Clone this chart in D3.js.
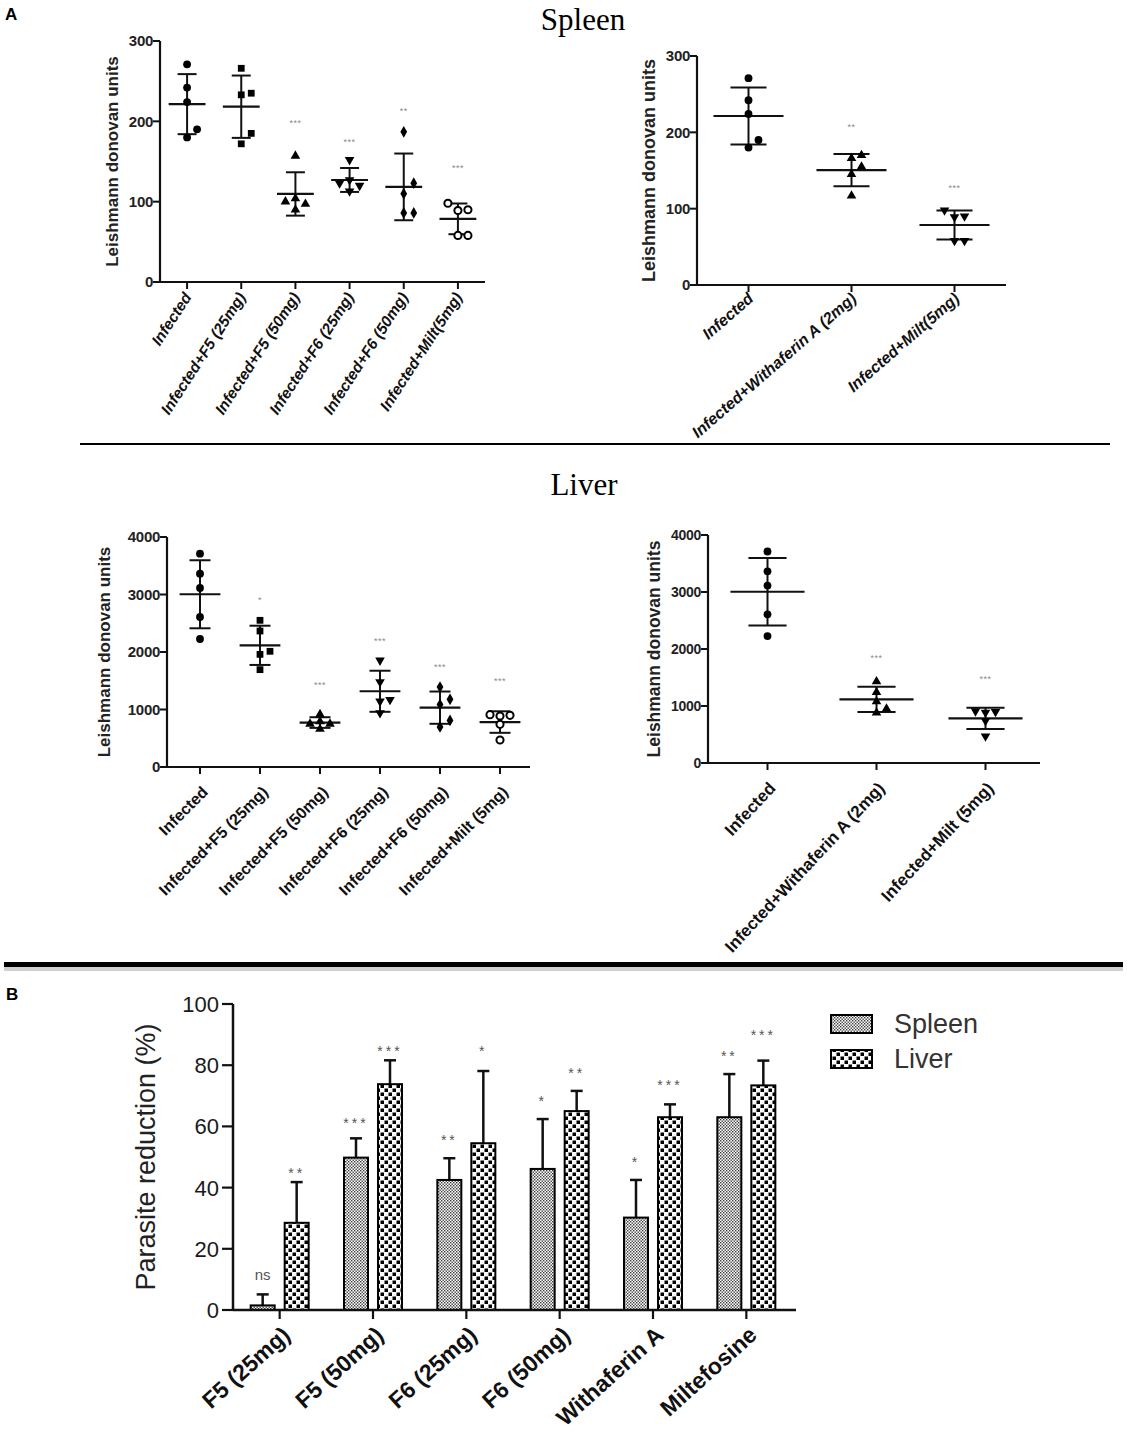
<!DOCTYPE html>
<html>
<head>
<meta charset="utf-8">
<script src="https://cdn.jsdelivr.net/npm/d3@7"></script>
<style>
  body { margin: 0; background: #fff; }
  svg { display: block; font-family: "Liberation Sans", Arial, sans-serif; }
</style>
</head>
<body>
<svg id="fig" width="1127" height="1440"></svg>
<script>
// ---- data: panel A, spleen (Leishmann donovan units, 5 animals per group)
const spleenCats = ["Infected", "Infected+F5 (25mg)", "Infected+F5 (50mg)", "Infected+F6 (25mg)", "Infected+F6 (50mg)", "Infected+Milt(5mg)"];
const spleenInfected = [271, 242, 224, 190, 180];
const spleenF5_25 = [266, 235, 233, 185, 172];
const spleenF5_50 = [157, 104, 100, 97, 90];
const spleenF6_25 = [152, 127, 123, 120, 113];
const spleenF6_50 = [187, 123, 110, 86, 86];
const spleenMilt = [98, 90, 89, 58, 58];
const spleenWitha = [170, 166, 155, 145, 117];
const spleenStars = ["", "", "***", "***", "**", "***"];
const spleenStarY = [null, null, 199, 175, 214, 143];
const spleenCats2 = ["Infected", "Infected+Withaferin A (2mg)", "Infected+Milt(5mg)"];
const spleenStars2 = ["", "**", "***"];
const spleenStarY2 = [null, 208, 129];
const spleenTicks = [0, 100, 200, 300];

// ---- data: panel A, liver
const liverCats = ["Infected", "Infected+F5 (25mg)", "Infected+F5 (50mg)", "Infected+F6 (25mg)", "Infected+F6 (50mg)", "Infected+Milt (5mg)"];
const liverInfected = [3710, 3362, 3113, 2609, 2226];
const liverF5_25 = [2551, 2365, 2012, 1959, 1693];
const liverF5_50 = [915, 790, 750, 750, 660];
const liverF6_25 = [1855, 1478, 1171, 1142, 939];
const liverF6_50 = [1391, 1177, 1085, 810, 696];
const liverMilt = [910, 899, 887, 742, 470];
const liverWitha = [1430, 1240, 1080, 950, 880];
const liverStars = ["", "*", "***", "***", "***", "***"];
const liverStarY = [null, 2922, 1438, 2216, 1751, 1507];
const liverCats2 = ["Infected", "Infected+Withaferin A (2mg)", "Infected+Milt (5mg)"];
const liverStars2 = ["", "***", "***"];
const liverStarY2 = [null, 1868, 1500];
const liverTicks = [0, 1000, 2000, 3000, 4000];

// ---- data: panel B, parasite reduction (%)
const drugs = ["F5 (25mg)", "F5 (50mg)", "F6 (25mg)", "F6 (50mg)", "Withaferin A", "Miltefosine"];
const organs = ["Spleen", "Liver"];
const spleenReduction = [1.5, 49.8, 42.5, 46.1, 30.2, 63];
const spleenReductionSD = [3.6, 6.3, 7.1, 16.3, 12.3, 14.1];
const liverReduction = [28.5, 73.8, 54.5, 65, 63, 73.4];
const liverReductionSD = [13.3, 7.8, 23.6, 6.6, 4.2, 8.1];
const spleenSig = ["ns", "***", "**", "*", "*", "**"];
const liverSig = ["**", "***", "*", "**", "***", "***"];
const spleenSigY = [11.4, 62, 56.6, 69.2, 49.3, 83.9];
const liverSigY = [45.8, 85.5, 85.5, 78.4, 74.6, 91];
const reductionTicks = [0, 20, 40, 60, 80, 100];

const svg = d3.select("#fig");
const ink = "#111";

// patterns for panel B
const defs = svg.append("defs");
const pS = defs.append("pattern").attr("id", "patSpleen").attr("patternUnits", "userSpaceOnUse")
    .attr("width", 3).attr("height", 3);
pS.append("rect").attr("width", 3).attr("height", 3).attr("fill", "#fff");
pS.append("rect").attr("width", 1.4).attr("height", 1.4).attr("fill", "#3a3a3a");
pS.append("rect").attr("x", 1.5).attr("y", 1.5).attr("width", 1.4).attr("height", 1.4).attr("fill", "#3a3a3a");
const pL = defs.append("pattern").attr("id", "patLiver").attr("patternUnits", "userSpaceOnUse")
    .attr("width", 8).attr("height", 8);
pL.append("rect").attr("width", 8).attr("height", 8).attr("fill", "#fff");
pL.append("rect").attr("x", 0.5).attr("y", 0.5).attr("width", 3.5).attr("height", 3.5).attr("fill", "#000");
pL.append("rect").attr("x", 4.5).attr("y", 4.5).attr("width", 3.5).attr("height", 3.5).attr("fill", "#000");

// spread points of similar value into columns (GraphPad-like)
function jitterColumns(values, y, tol) {
    const order = d3.range(values.length).sort((a, b) => values[a] - values[b]);
    const slots = [0, 1, -1, 2, -2];
    const col = new Array(values.length);
    let start = null, k = 0;
    order.forEach(i => {
        if (start === null || Math.abs(y(values[i]) - y(values[start])) >= tol) { start = i; k = 0; }
        col[i] = slots[k++];
    });
    return col;
}

function markerPath(shape) {
    const types = {
        circle: [d3.symbolCircle, 48], openCircle: [d3.symbolCircle, 40], square: [d3.symbolSquare, 46],
        triangle: [d3.symbolTriangle, 40], triangleDown: [d3.symbolTriangle, 40], diamond: [d3.symbolDiamond, 40]
    };
    const t = types[shape];
    return d3.symbol(t[0], t[1])();
}

function scatterPanel(cfg) {
    const g = svg.append("g");
    const x = d3.scaleBand().domain(cfg.cats).range(cfg.xRange);
    const y = d3.scaleLinear().domain([0, cfg.yMax]).range(cfg.yRange);
    const bw = x.bandwidth();
    const base = cfg.yRange[0];

    // y axis
    g.append("line").attr("x1", cfg.axisX).attr("x2", cfg.axisX).attr("y1", base).attr("y2", cfg.yRange[1])
        .attr("stroke", ink).attr("stroke-width", 2.2);
    cfg.ticks.forEach(t => {
        g.append("line").attr("x1", cfg.axisX - 7).attr("x2", cfg.axisX).attr("y1", y(t)).attr("y2", y(t))
            .attr("stroke", ink).attr("stroke-width", 2);
        g.append("text").attr("x", cfg.axisX - 7).attr("y", y(t)).attr("dy", "0.36em")
            .attr("text-anchor", "end").attr("font-weight", "bold").attr("font-size", cfg.tickFont)
            .attr("letter-spacing", -0.3).attr("fill", "#222").text(t);
    });
    // x axis
    g.append("line").attr("x1", cfg.axisX).attr("x2", cfg.xRange[1]).attr("y1", base).attr("y2", base)
        .attr("stroke", ink).attr("stroke-width", 2.2);
    cfg.cats.forEach(c => {
        const cx = x(c) + bw / 2;
        g.append("line").attr("x1", cx).attr("x2", cx).attr("y1", base).attr("y2", base + 7)
            .attr("stroke", ink).attr("stroke-width", 2);
        g.append("text")
            .attr("transform", `translate(${cx + cfg.labelDx},${base + cfg.labelDy}) rotate(${-cfg.labelAngle})`)
            .attr("text-anchor", "end").attr("font-weight", "bold")
            .attr("font-style", cfg.italic ? "italic" : "normal")
            .attr("font-size", cfg.labelFont).attr("fill", "#111").text(c);
    });
    // axis title
    g.append("text").attr("transform", `translate(${cfg.titleX},${(base + cfg.yRange[1]) / 2}) rotate(-90)`)
        .attr("text-anchor", "middle").attr("font-weight", "bold").attr("font-size", cfg.titleFont)
        .attr("fill", "#222").text("Leishmann donovan units");

    cfg.groups.forEach((vals, i) => {
        const cx = x(cfg.cats[i]) + bw / 2;
        const m = d3.mean(vals), sd = d3.deviation(vals);
        const meanW = bw * 0.68, sdW = bw * 0.35;
        g.append("line").attr("x1", cx).attr("x2", cx).attr("y1", y(m + sd)).attr("y2", y(m - sd))
            .attr("stroke", ink).attr("stroke-width", 2);
        [m + sd, m - sd].forEach(v => g.append("line").attr("x1", cx - sdW / 2).attr("x2", cx + sdW / 2)
            .attr("y1", y(v)).attr("y2", y(v)).attr("stroke", ink).attr("stroke-width", 2));
        g.append("line").attr("x1", cx - meanW / 2).attr("x2", cx + meanW / 2).attr("y1", y(m)).attr("y2", y(m))
            .attr("stroke", ink).attr("stroke-width", 2.2);

        const cols = jitterColumns(vals, y, cfg.tol);
        const shape = cfg.shapes[i];
        g.selectAll(null).data(vals).enter().append("path")
            .attr("d", markerPath(shape))
            .attr("transform", (d, j) => `translate(${cx + cols[j] * 10},${y(d)})${shape === "triangleDown" ? " rotate(180)" : ""}`)
            .attr("fill", shape === "openCircle" ? "#fff" : "#000")
            .attr("stroke", shape === "openCircle" ? "#000" : "none")
            .attr("stroke-width", 2);

        if (cfg.stars[i]) {
            g.append("text").attr("x", cx).attr("y", y(cfg.starY[i]) + 4).attr("text-anchor", "middle")
                .attr("font-size", 9).attr("letter-spacing", 0.5).attr("fill", "#8a8a8a").text(cfg.stars[i]);
        }
    });
}

// ---- panel A headers
svg.append("text").attr("x", 5).attr("y", 20).attr("font-weight", "bold").attr("font-size", 17).text("A");
svg.append("text").attr("x", 583).attr("y", 30).attr("text-anchor", "middle")
    .attr("font-family", "Liberation Serif, Times New Roman, serif").attr("font-size", 31).text("Spleen");
svg.append("line").attr("x1", 80).attr("x2", 1110).attr("y1", 444).attr("y2", 444).attr("stroke", "#000").attr("stroke-width", 2);
svg.append("text").attr("x", 584).attr("y", 495).attr("text-anchor", "middle")
    .attr("font-family", "Liberation Serif, Times New Roman, serif").attr("font-size", 31).text("Liver");

scatterPanel({
    cats: spleenCats, groups: [spleenInfected, spleenF5_25, spleenF5_50, spleenF6_25, spleenF6_50, spleenMilt],
    shapes: ["circle", "square", "triangle", "triangleDown", "diamond", "openCircle"],
    stars: spleenStars, starY: spleenStarY, yMax: 300, ticks: spleenTicks,
    axisX: 160, xRange: [160, 485], yRange: [282, 41], tol: 10.5,
    tickFont: 15, labelFont: 15.5, labelAngle: 57, italic: true, labelDx: 5, labelDy: 15,
    titleX: 118, titleFont: 17
});
scatterPanel({
    cats: spleenCats2, groups: [spleenInfected, spleenWitha, spleenMilt],
    shapes: ["circle", "triangle", "triangleDown"],
    stars: spleenStars2, starY: spleenStarY2, yMax: 300, ticks: spleenTicks,
    axisX: 697, xRange: [697, 1006], yRange: [285, 56], tol: 10.5,
    tickFont: 15, labelFont: 16, labelAngle: 41, italic: true, labelDx: 6, labelDy: 15,
    titleX: 655, titleFont: 18
});
scatterPanel({
    cats: liverCats, groups: [liverInfected, liverF5_25, liverF5_50, liverF6_25, liverF6_50, liverMilt],
    shapes: ["circle", "square", "triangle", "triangleDown", "diamond", "openCircle"],
    stars: liverStars, starY: liverStarY, yMax: 4000, ticks: liverTicks,
    axisX: 167, xRange: [170, 530], yRange: [767, 537], tol: 7,
    tickFont: 15, labelFont: 16, labelAngle: 45, italic: false, labelDx: 9, labelDy: 26,
    titleX: 110, titleFont: 17
});
scatterPanel({
    cats: liverCats2, groups: [liverInfected, liverWitha, liverMilt],
    shapes: ["circle", "triangle", "triangleDown"],
    stars: liverStars2, starY: liverStarY2, yMax: 4000, ticks: liverTicks,
    axisX: 708, xRange: [713, 1040], yRange: [763, 535], tol: 7,
    tickFont: 14, labelFont: 17, labelAngle: 47, italic: false, labelDx: 9, labelDy: 26,
    titleX: 660, titleFont: 17.5
});

// ---- separator between A and B
svg.append("rect").attr("x", 4).attr("y", 962).attr("width", 1119).attr("height", 5).attr("fill", "#000");
svg.append("rect").attr("x", 4).attr("y", 967).attr("width", 1119).attr("height", 4).attr("fill", "#cfcfcf");

// ---- panel B
svg.append("text").attr("x", 6).attr("y", 1000).attr("font-weight", "bold").attr("font-size", 17).text("B");

const bx = d3.scaleBand().domain(drugs).range([233, 793]);
const by = d3.scaleLinear().domain([0, 100]).range([1310, 1004]);
const inner = d3.scaleBand().domain(organs).range([-29, 29]).paddingInner(0.294);
const gB = svg.append("g");

const series = [
    { organ: "Spleen", vals: spleenReduction, sd: spleenReductionSD, sig: spleenSig, sigY: spleenSigY, fill: "url(#patSpleen)" },
    { organ: "Liver", vals: liverReduction, sd: liverReductionSD, sig: liverSig, sigY: liverSigY, fill: "url(#patLiver)" }
];

series.forEach(s => {
    drugs.forEach((d, i) => {
        const x0 = bx(d) + bx.bandwidth() / 2 + inner(s.organ);
        const w = inner.bandwidth();
        const top = by(s.vals[i]);
        const cap = by(s.vals[i] + s.sd[i]);
        gB.append("line").attr("x1", x0 + w / 2).attr("x2", x0 + w / 2).attr("y1", top).attr("y2", cap)
            .attr("stroke", ink).attr("stroke-width", 2.5);
        gB.append("line").attr("x1", x0 + w / 2 - 6).attr("x2", x0 + w / 2 + 6).attr("y1", cap).attr("y2", cap)
            .attr("stroke", ink).attr("stroke-width", 2.5);
        gB.append("rect").attr("x", x0).attr("y", top).attr("width", w).attr("height", by(0) - top)
            .attr("fill", s.fill).attr("stroke", "#000").attr("stroke-width", 2);
        const ns = s.sig[i] === "ns";
        gB.append("text").attr("x", x0 + w / 2).attr("y", by(s.sigY[i]) + (ns ? 5 : 8))
            .attr("text-anchor", "middle").attr("font-size", ns ? 15 : 14).attr("letter-spacing", ns ? 0 : 3)
            .attr("fill", "#555").text(s.sig[i]);
    });
});

// axes B
gB.append("line").attr("x1", 233).attr("x2", 233).attr("y1", by(0)).attr("y2", by(100))
    .attr("stroke", ink).attr("stroke-width", 2.5);
gB.append("line").attr("x1", 233).attr("x2", 796).attr("y1", by(0)).attr("y2", by(0))
    .attr("stroke", ink).attr("stroke-width", 2.5);
reductionTicks.forEach(t => {
    gB.append("line").attr("x1", 222).attr("x2", 233).attr("y1", by(t)).attr("y2", by(t))
        .attr("stroke", ink).attr("stroke-width", 2.2);
    gB.append("text").attr("x", 219).attr("y", by(t)).attr("dy", "0.36em").attr("text-anchor", "end")
        .attr("font-size", 22).attr("fill", "#1a1a1a").text(t);
});
drugs.forEach(d => {
    const cx = bx(d) + bx.bandwidth() / 2;
    gB.append("line").attr("x1", cx).attr("x2", cx).attr("y1", by(0)).attr("y2", by(0) + 9)
        .attr("stroke", ink).attr("stroke-width", 2.2);
    gB.append("text").attr("transform", `translate(${cx + 12},${by(0) + 27}) rotate(-42)`)
        .attr("text-anchor", "end").attr("font-weight", "bold").attr("font-size", 23).attr("fill", "#111").text(d);
});
gB.append("text").attr("transform", `translate(155,${(by(0) + by(100)) / 2}) rotate(-90)`)
    .attr("text-anchor", "middle").attr("font-size", 27).attr("fill", "#222").text("Parasite reduction (%)");

// legend B
series.forEach((s, i) => {
    const ly = 1015 + i * 35;
    gB.append("rect").attr("x", 831).attr("y", ly).attr("width", 41).attr("height", 18)
        .attr("fill", s.fill).attr("stroke", "#000").attr("stroke-width", 2);
    gB.append("text").attr("x", 894).attr("y", ly + 18).attr("font-size", 27).attr("fill", "#333").text(s.organ);
});
</script>
</body>
</html>
